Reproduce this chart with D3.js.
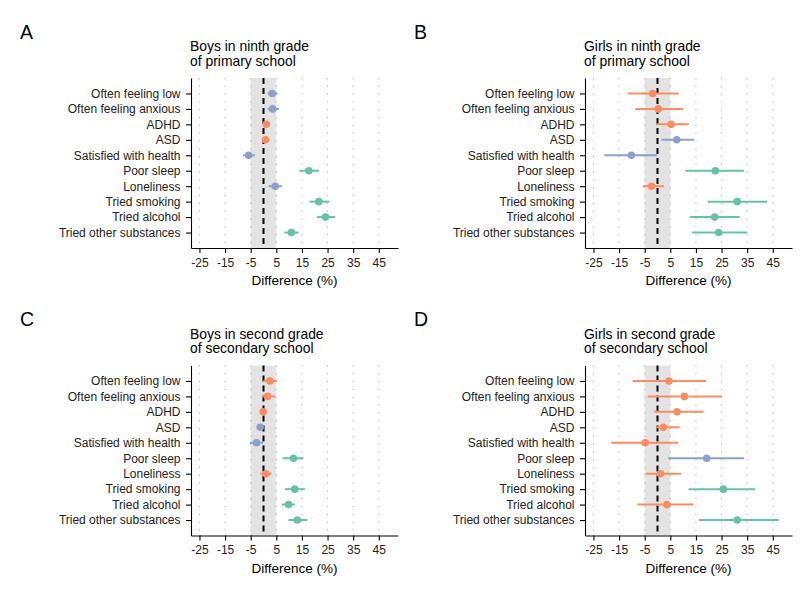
<!DOCTYPE html>
<html>
<head>
<meta charset="utf-8">
<script src="https://cdn.jsdelivr.net/npm/d3@7"></script>
<style>
  body { margin: 0; background: #fff; }
  svg text { font-family: "Liberation Sans", Arial, Helvetica, sans-serif; }
</style>
</head>
<body>
<svg id="chart" width="800" height="594"></svg>
<script>
const outcomes = [
  "Often feeling low", "Often feeling anxious", "ADHD", "ASD",
  "Satisfied with health", "Poor sleep", "Loneliness", "Tried smoking",
  "Tried alcohol", "Tried other substances"
];
const xTicks = [-25, -15, -5, 5, 15, 25, 35, 45];

// A: boys, ninth grade
const boysNinthEst = [3.4, 3.6, 1.1, 0.8, -5.8, 17.7, 4.6, 21.6, 24.2, 10.9];
const boysNinthLow = [1.6, 1.6, 0.4, 0.1, -8.0, 14.0, 2.0, 17.9, 20.9, 8.1];
const boysNinthHigh = [5.5, 6.0, 1.8, 1.5, -3.3, 21.7, 7.2, 25.7, 28.0, 13.7];
const boysNinthGroup = ["b", "b", "o", "o", "b", "g", "b", "g", "g", "g"];

// B: girls, ninth grade
const girlsNinthEst = [-1.9, 0.3, 5.3, 7.5, -10.2, 22.6, -2.3, 31.1, 22.3, 23.9];
const girlsNinthLow = [-11.7, -8.7, -0.6, 1.5, -20.8, 10.9, -5.8, 19.7, 12.6, 13.5];
const girlsNinthHigh = [8.3, 10.1, 12.2, 14.4, -0.3, 33.8, 2.5, 42.8, 32.1, 35.0];
const girlsNinthGroup = ["o", "o", "o", "b", "b", "g", "o", "g", "g", "g"];

// C: boys, second grade secondary
const boysSecondEst = [2.5, 1.6, -0.1, -1.3, -2.7, 11.7, 1.0, 12.2, 9.8, 13.2];
const boysSecondLow = [-0.1, -0.7, -0.7, -2.3, -5.3, 7.4, -1.3, 8.4, 7.2, 9.7];
const boysSecondHigh = [5.3, 4.6, 0.5, -0.2, -0.2, 15.6, 3.1, 16.2, 12.2, 17.1];
const boysSecondGroup = ["o", "o", "o", "b", "b", "g", "o", "g", "g", "g"];

// D: girls, second grade secondary
const girlsSecondEst = [4.5, 10.5, 7.6, 2.3, -4.8, 19.2, 1.2, 25.7, 3.7, 31.1];
const girlsSecondLow = [-9.7, -3.9, -1.3, -0.6, -18.1, 4.1, -4.6, 12.1, -7.8, 16.1];
const girlsSecondHigh = [19.0, 25.2, 18.0, 8.7, 8.0, 33.8, 9.2, 38.1, 14.0, 47.3];
const girlsSecondGroup = ["o", "o", "o", "o", "o", "b", "o", "g", "o", "g"];

const groupColors = { o: "#fc8d62", b: "#8da0cb", g: "#66c2a5" };

const panels = [
  { letter: "A", title: ["Boys in ninth grade", "of primary school"],
    est: boysNinthEst, low: boysNinthLow, high: boysNinthHigh, grp: boysNinthGroup,
    ox: 0, oy: 0 },
  { letter: "B", title: ["Girls in ninth grade", "of primary school"],
    est: girlsNinthEst, low: girlsNinthLow, high: girlsNinthHigh, grp: girlsNinthGroup,
    ox: 394, oy: 0 },
  { letter: "C", title: ["Boys in second grade", "of secondary school"],
    est: boysSecondEst, low: boysSecondLow, high: boysSecondHigh, grp: boysSecondGroup,
    ox: 0, oy: 287.5 },
  { letter: "D", title: ["Girls in second grade", "of secondary school"],
    est: girlsSecondEst, low: girlsSecondLow, high: girlsSecondHigh, grp: girlsSecondGroup,
    ox: 394, oy: 287.5 }
];

const svg = d3.select("#chart");
const plotLeft = 191, plotRight = 398, plotTop = 78, plotBottom = 248;

function drawPanel(p) {
  const g = svg.append("g").attr("transform", `translate(${p.ox},${p.oy})`);
  const x = d3.scaleLinear().domain([-28.3, 52.5]).range([plotLeft, plotRight]);
  const y = d3.scalePoint().domain(outcomes).range([plotTop, plotBottom]).padding(1);

  // panel letter and title
  g.append("text").attr("x", 20).attr("y", 38.5)
    .attr("font-size", 19.5).attr("fill", "#000").text(p.letter);
  g.selectAll("text.title")
    .data(p.title)
    .enter()
    .append("text")
    .attr("class", "title")
    .attr("x", plotLeft - 1)
    .attr("y", (d, i) => 51 + i * 14.5)
    .attr("font-size", 13.9)
    .attr("fill", "#000")
    .text((d) => d);

  // shaded equivalence band
  g.append("rect")
    .attr("x", x(-5)).attr("width", x(5) - x(-5))
    .attr("y", plotTop).attr("height", plotBottom - plotTop)
    .attr("fill", "#e3e3e3");

  // dotted vertical grid
  g.selectAll("line.grid")
    .data(xTicks)
    .enter()
    .append("line")
    .attr("class", "grid")
    .attr("x1", (d) => x(d)).attr("x2", (d) => x(d))
    .attr("y1", plotTop).attr("y2", plotBottom)
    .attr("stroke", "#b5b5b5")
    .attr("stroke-width", 1.1)
    .attr("stroke-dasharray", "1.2,6.6");

  // zero reference line
  g.append("line")
    .attr("x1", x(0)).attr("x2", x(0))
    .attr("y1", plotTop).attr("y2", plotBottom)
    .attr("stroke", "#000")
    .attr("stroke-width", 2)
    .attr("stroke-dasharray", "6,4");

  // confidence intervals
  g.selectAll("line.ci")
    .data(outcomes)
    .enter()
    .append("line")
    .attr("class", "ci")
    .attr("x1", (d, i) => x(p.low[i]))
    .attr("x2", (d, i) => x(p.high[i]))
    .attr("y1", (d) => y(d)).attr("y2", (d) => y(d))
    .attr("stroke", (d, i) => groupColors[p.grp[i]])
    .attr("stroke-width", 2);

  // point estimates
  g.selectAll("circle.est")
    .data(outcomes)
    .enter()
    .append("circle")
    .attr("class", "est")
    .attr("cx", (d, i) => x(p.est[i]))
    .attr("cy", (d) => y(d))
    .attr("r", 3.8)
    .attr("fill", (d, i) => groupColors[p.grp[i]]);

  // axes
  const xAxis = g.append("g")
    .attr("transform", `translate(0,${plotBottom})`)
    .call(d3.axisBottom(x).tickValues(xTicks).tickSize(5).tickSizeOuter(0)
      .tickFormat((d) => String(d)));
  xAxis.select(".domain").attr("stroke", "#000").attr("stroke-width", 1.1);
  xAxis.selectAll(".tick line").attr("stroke", "#000").attr("stroke-width", 1.1);
  xAxis.selectAll(".tick text")
    .attr("font-size", 12).attr("fill", "#222").attr("dy", "0.71em").attr("y", 10)
    .style("font-family", "'Liberation Sans', Arial, sans-serif");

  const yAxis = g.append("g")
    .attr("transform", `translate(${plotLeft},0)`)
    .call(d3.axisLeft(y).tickSize(5).tickSizeOuter(0).tickPadding(5.5));
  yAxis.select(".domain").attr("stroke", "#000").attr("stroke-width", 1.1);
  yAxis.selectAll(".tick line").attr("stroke", "#000").attr("stroke-width", 1.1);
  yAxis.selectAll(".tick text")
    .attr("font-size", 12).attr("fill", "#222")
    .style("font-family", "'Liberation Sans', Arial, sans-serif");

  g.append("text")
    .attr("x", (plotLeft + plotRight) / 2)
    .attr("y", 285)
    .attr("text-anchor", "middle")
    .attr("font-size", 13.5)
    .attr("fill", "#000")
    .text("Difference (%)");
}

panels.forEach(drawPanel);
</script>
</body>
</html>
